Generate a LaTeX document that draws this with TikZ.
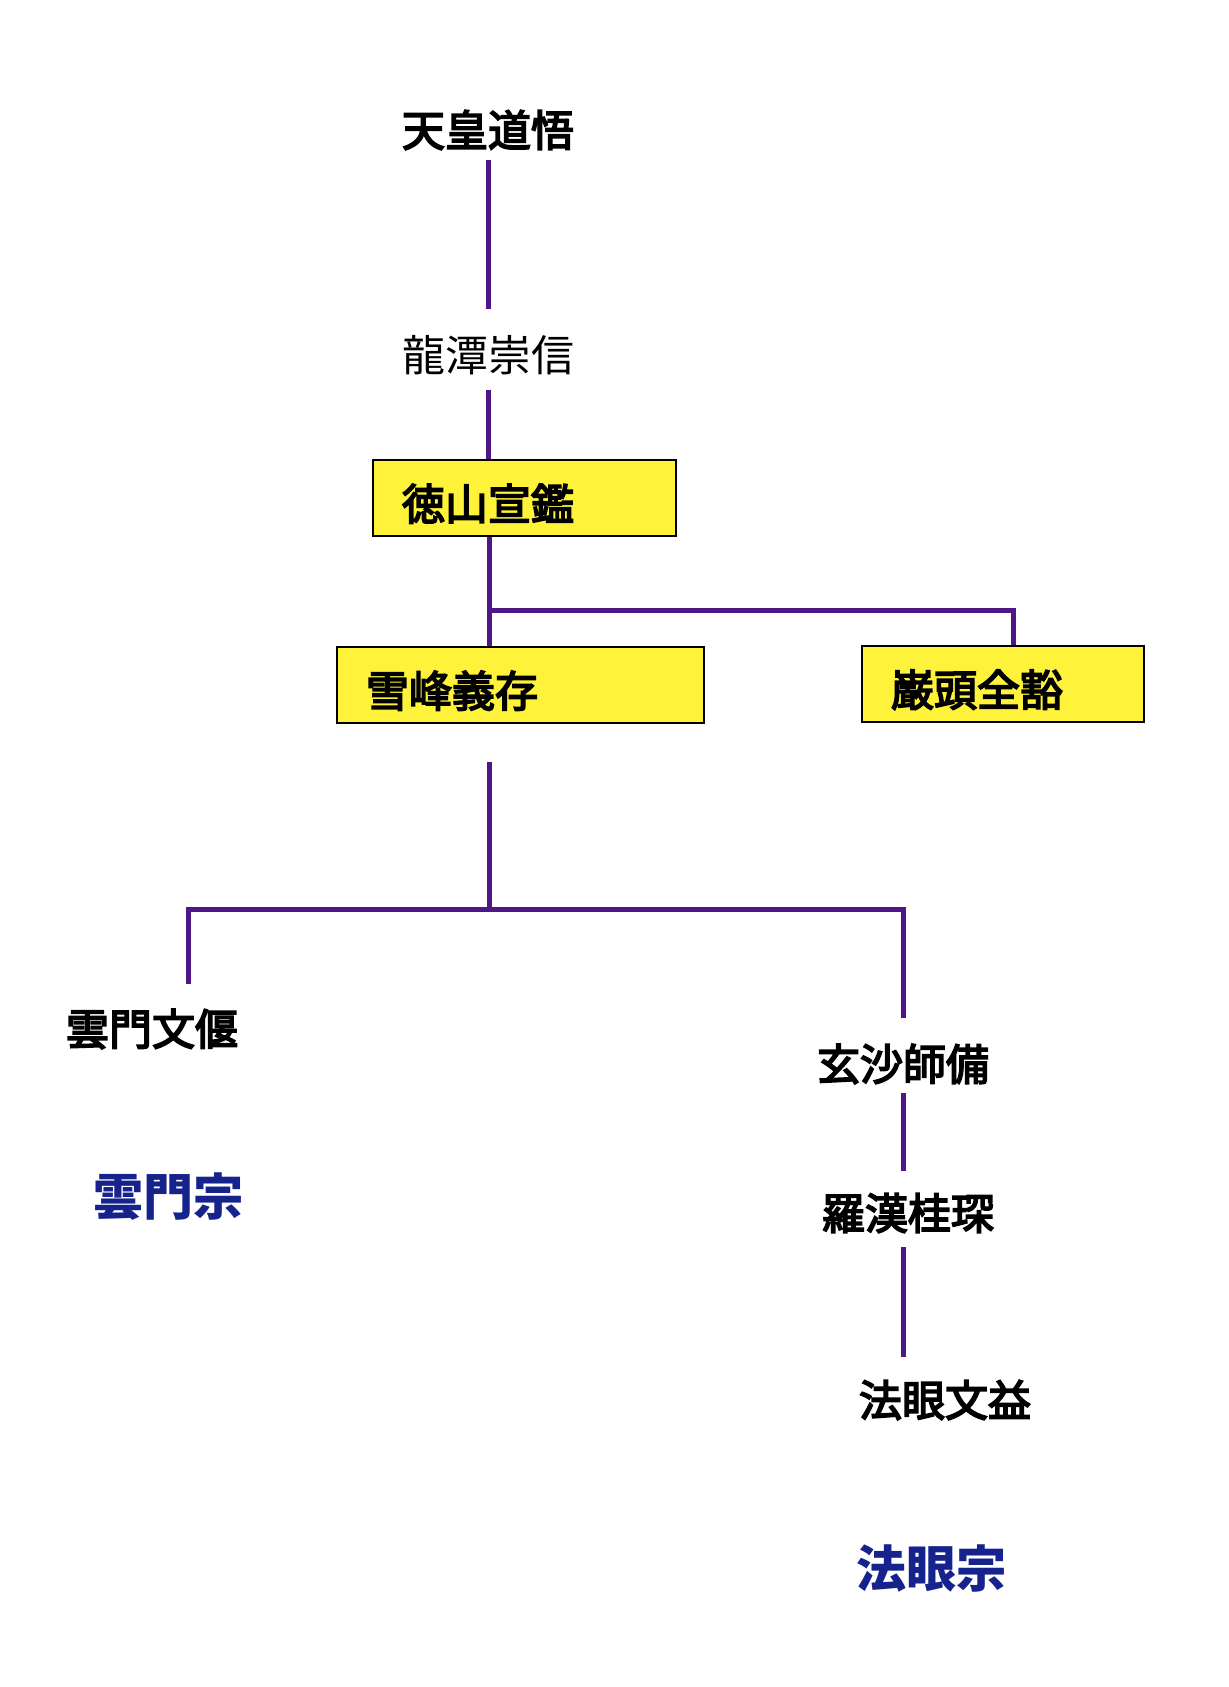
\documentclass[tikz,border=0pt]{standalone}
\usepackage{fontspec}
\newfontfamily\jpfont{Noto Sans CJK JP}
\newfontfamily\jpmedium[FakeBold=4]{Noto Sans CJK JP}
\usepackage{tikz}
\usetikzlibrary{positioning,calc}
\usepackage{xcolor}
\definecolor{linepurple}{HTML}{4E1785}
\definecolor{boxyellow}{HTML}{FFF23A}
\definecolor{sectblue}{HTML}{16238C}

\begin{document}
\begin{tikzpicture}[
    x=1pt,y=-1pt,
    person/.style={inner sep=0pt,font=\jpmedium\fontsize{43}{43}\selectfont},
    plain/.style={inner sep=0pt,font=\jpfont\fontsize{43}{43}\selectfont},
    box/.style={draw,line width=2.5pt,fill=boxyellow,inner xsep=29pt,inner ysep=0pt,
      minimum height=76pt,text height=44pt,text depth=0pt,align=left,
      font=\jpmedium\fontsize{43}{43}\selectfont},
    sect/.style={inner sep=0pt,text=sectblue,font=\jpfont\bfseries\fontsize{50}{50}\selectfont},
    lineage/.style={draw=linepurple,line width=5pt}
  ]
  \useasboundingbox (0,0) rectangle (1229,1687);

  %% Top of the lineage
  \node[person] (tennou) at (488,130) {天皇道悟};
  \node[plain] (ryutan) at (488,355) {龍潭崇信};
  \node[box,text width=245pt] (tokusan) at (524.5,498) {徳山宣鑑};

  %% Second generation
  \node[box,text width=309pt] (seppo) at (520.5,685) {雪峰義存};
  \node[box,text width=224pt] (ganto) at (1003,684) {巌頭全豁};

  %% Branches below Seppo
  \node[person] (unmon) at (152,1029) {雲門文偃};
  \node[person] (gensha) at (903,1064) {玄沙師備};
  \node[person] (rakan) at (908,1213) {羅漢桂琛};
  \node[person] (hogen) at (945,1400) {法眼文益};

  %% Schools
  \node[sect] (unmonshu) at (168,1197) {雲門宗};
  \node[sect] (hogenshu) at (931,1568) {法眼宗};

  %% Fork points
  \coordinate (fork1) at (489,610);
  \coordinate (fork2) at (489,909);
  \coordinate (leftdrop) at (188,909);

  %% Connectors
  \draw[lineage,shorten <=10pt,shorten >=26pt] (tennou.south) -- (ryutan.north);
  \draw[lineage,shorten <=15pt] (ryutan.south) -- (ryutan.south |- tokusan.north);
  \draw[lineage] (tokusan.south -| fork1) -- (seppo.north -| fork1);
  \draw[lineage] (fork1) -| ([xshift=10pt]ganto.north);
  \draw[lineage,shorten <=38pt] (seppo.south -| fork2) -- (fork2);
  \draw[lineage,shorten >=25pt] (fork2) -- (leftdrop) -- (leftdrop |- unmon.north);
  \draw[lineage,shorten >=26pt] (fork2) -| (gensha.north);
  \draw[lineage,shorten <=9pt,shorten >=22pt] (gensha.south) -- (gensha.south |- rakan.north);
  \draw[lineage,shorten <=14pt,shorten >=23pt] (rakan.south -| gensha) -- (gensha |- hogen.north);
\end{tikzpicture}
\end{document}
